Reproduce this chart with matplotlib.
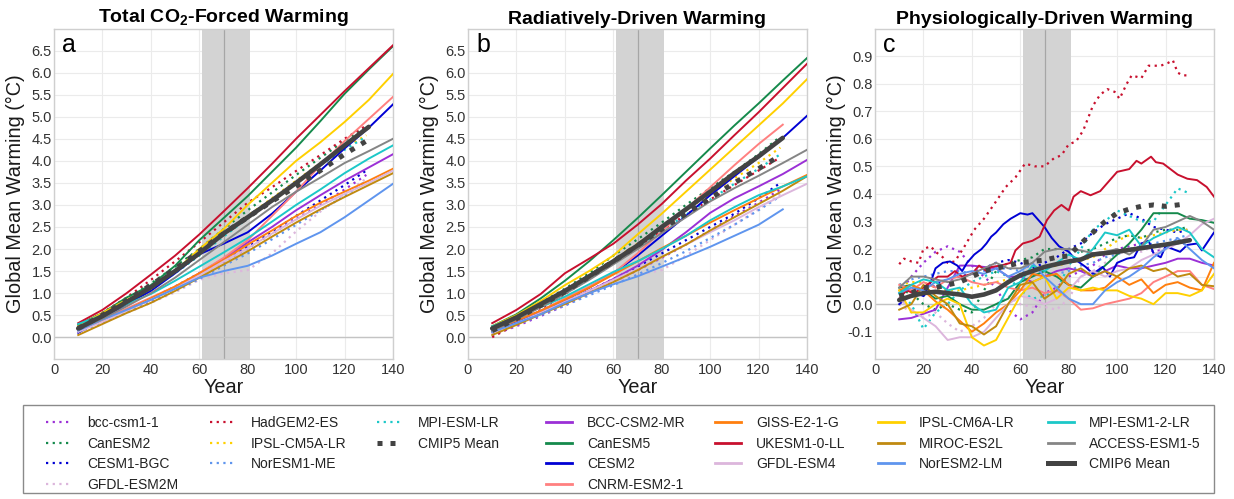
import numpy as np
import matplotlib
matplotlib.use("Agg")
import matplotlib.pyplot as plt
from matplotlib.lines import Line2D
from matplotlib.patches import Rectangle

nan = np.nan

# ---------------------------------------------------------------- years
YEARS6 = [10, 20, 30, 40, 50, 60, 70, 80, 90, 100, 110, 120, 130, 140]
YEARS5 = [10, 20, 30, 40, 50, 60, 70, 80, 90, 100, 110, 120, 129]
YEARS_MEAN6 = [10, 20, 30, 40, 50, 60, 70, 80, 90, 100, 110, 120, 130]
PHY_YEARS6 = list(range(10, 141, 5))
PHY_YEARS5 = list(range(10, 126, 5)) + [129]
PHY_YEARS_MEAN6 = list(range(10, 131, 5))

# ------------------------------------------- total CO2-forced warming (a)
tot_bcc5 = [0.12, 0.35, 0.60, 0.85, 1.12, 1.42, 1.72, 2.02, 2.35, 2.68, 3.00, 3.35, 3.68]
tot_canesm2 = [0.25, 0.55, 0.88, 1.22, 1.60, 2.00, 2.45, 2.88, 3.28, 3.68, 4.07, 4.45, 4.78]
tot_cesm1 = [0.15, 0.38, 0.62, 0.88, 1.15, 1.45, 1.75, 2.05, 2.40, 2.75, 3.10, 3.45, 3.78]
tot_gfdl2m = [0.15, 0.35, 0.55, 0.78, 1.02, 1.30, 1.45, 1.52, 1.90, 2.40, 2.85, 3.25, 3.60]
tot_hadgem2 = [0.25, 0.55, 0.90, 1.30, 1.72, 2.15, 2.60, 3.05, 3.40, 3.77, 4.13, 4.50, 4.80]
tot_ipsl5 = [0.22, 0.50, 0.80, 1.12, 1.50, 1.90, 2.33, 2.75, 3.15, 3.55, 3.95, 4.30, 4.58]
tot_noresm1 = [0.12, 0.33, 0.56, 0.80, 1.05, 1.32, 1.62, 1.90, 2.22, 2.55, 2.88, 3.20, 3.55]
tot_mpi5 = [0.22, 0.48, 0.78, 1.10, 1.45, 1.85, 2.28, 2.70, 3.10, 3.50, 3.90, 4.25, 4.55]
tot_mean5 = [0.20, 0.50, 0.83, 1.18, 1.55, 1.95, 2.35, 2.72, 3.08, 3.42, 3.78, 4.15, 4.45]

tot_bcc6 = [0.20, 0.40, 0.62, 0.85, 1.12, 1.45, 1.78, 2.15, 2.50, 2.88, 3.22, 3.55, 3.85, 4.15]
tot_canesm5 = [0.28, 0.55, 0.90, 1.18, 1.62, 2.20, 2.70, 3.20, 3.75, 4.30, 4.90, 5.52, 6.07, 6.60]
tot_cesm2 = [0.10, 0.42, 0.75, 1.05, 1.45, 1.88, 2.12, 2.38, 2.80, 3.30, 3.78, 4.28, 4.75, 5.28]
tot_cnrm = [0.20, 0.40, 0.65, 0.90, 1.15, 1.45, 1.80, 2.20, 2.75, 3.30, 3.90, 4.45, 4.95, 5.45]
tot_giss = [0.15, 0.38, 0.62, 0.88, 1.15, 1.45, 1.75, 2.10, 2.42, 2.75, 3.05, 3.30, 3.55, 3.82]
tot_ukesm = [0.32, 0.62, 1.00, 1.42, 1.85, 2.33, 2.85, 3.38, 3.93, 4.50, 5.04, 5.58, 6.10, 6.62]
tot_gfdl4 = [0.12, 0.35, 0.60, 0.85, 1.10, 1.40, 1.72, 2.02, 2.35, 2.67, 2.98, 3.25, 3.50, 3.78]
tot_ipsl6 = [0.25, 0.55, 0.85, 1.10, 1.50, 2.00, 2.45, 3.00, 3.50, 4.00, 4.42, 4.88, 5.38, 5.97]
tot_miroc = [0.05, 0.30, 0.55, 0.78, 1.05, 1.35, 1.65, 1.95, 2.28, 2.60, 2.90, 3.18, 3.45, 3.72]
tot_noresm2 = [0.15, 0.40, 0.62, 0.85, 1.10, 1.35, 1.50, 1.62, 1.85, 2.12, 2.38, 2.72, 3.10, 3.48]
tot_mpi6 = [0.30, 0.50, 0.75, 0.98, 1.28, 1.60, 1.92, 2.25, 2.62, 3.00, 3.35, 3.72, 4.05, 4.35]
tot_access = [0.18, 0.42, 0.70, 1.00, 1.35, 1.75, 2.15, 2.55, 2.95, 3.30, 3.62, 3.95, 4.22, 4.50]
tot_mean6 = [0.20, 0.48, 0.80, 1.13, 1.50, 1.90, 2.35, 2.72, 3.10, 3.50, 3.92, 4.35, 4.77]

# ------------------------------------------- radiatively-driven warming (b)
rad_bcc5 = [0.05, 0.25, 0.48, 0.72, 0.98, 1.25, 1.52, 1.80, 2.10, 2.42, 2.75, 3.05, 3.35]
rad_canesm2 = [0.22, 0.48, 0.78, 1.10, 1.45, 1.85, 2.22, 2.60, 3.00, 3.38, 3.75, 4.15, 4.55]
rad_cesm1 = [0.12, 0.33, 0.56, 0.80, 1.05, 1.32, 1.60, 1.90, 2.20, 2.50, 2.80, 3.15, 3.50]
rad_gfdl2m = [0.10, 0.30, 0.52, 0.75, 0.98, 1.25, 1.42, 1.52, 1.85, 2.20, 2.55, 2.90, 3.25]
rad_hadgem2 = [0.00, 0.30, 0.62, 0.98, 1.32, 1.70, 2.05, 2.42, 2.78, 3.12, 3.45, 3.78, 4.08]
rad_ipsl5 = [0.18, 0.45, 0.75, 1.05, 1.38, 1.75, 2.12, 2.50, 2.88, 3.25, 3.60, 3.95, 4.30]
rad_noresm1 = [0.08, 0.28, 0.50, 0.72, 0.95, 1.18, 1.42, 1.68, 1.95, 2.25, 2.55, 2.88, 3.20]
rad_mpi5 = [0.18, 0.42, 0.70, 1.00, 1.32, 1.68, 2.05, 2.42, 2.78, 3.12, 3.48, 3.82, 4.15]
rad_mean5 = [0.15, 0.42, 0.72, 1.03, 1.37, 1.72, 2.08, 2.45, 2.80, 3.15, 3.50, 3.82, 4.12]

rad_bcc6 = [0.12, 0.32, 0.55, 0.80, 1.05, 1.32, 1.62, 1.98, 2.38, 2.82, 3.15, 3.42, 3.70, 4.02]
rad_canesm5 = [0.25, 0.52, 0.88, 1.28, 1.72, 2.20, 2.70, 3.22, 3.75, 4.28, 4.80, 5.30, 5.82, 6.33]
rad_cesm2 = [0.12, 0.35, 0.60, 0.85, 1.12, 1.45, 1.85, 2.30, 2.75, 3.22, 3.65, 4.08, 4.52, 5.02]
rad_cnrm = [0.18, 0.38, 0.60, 0.88, 1.15, 1.45, 1.90, 2.40, 2.90, 3.40, 3.90, 4.38, 4.82, nan]
rad_giss = [0.15, 0.38, 0.60, 0.85, 1.12, 1.42, 1.72, 2.02, 2.30, 2.60, 2.88, 3.15, 3.42, 3.68]
rad_ukesm = [0.32, 0.62, 0.98, 1.45, 1.78, 2.12, 2.55, 3.02, 3.55, 4.05, 4.58, 5.10, 5.65, 6.20]
rad_gfdl4 = [0.10, 0.32, 0.55, 0.80, 1.05, 1.30, 1.55, 1.82, 2.10, 2.38, 2.65, 2.95, 3.22, 3.48]
rad_ipsl6 = [0.25, 0.50, 0.82, 1.18, 1.50, 1.85, 2.33, 2.80, 3.30, 3.80, 4.30, 4.80, 5.30, 5.85]
rad_miroc = [0.05, 0.28, 0.52, 0.75, 1.00, 1.25, 1.52, 1.82, 2.10, 2.42, 2.72, 3.02, 3.32, 3.65]
rad_noresm2 = [0.12, 0.32, 0.52, 0.78, 1.00, 1.20, 1.38, 1.60, 1.82, 2.05, 2.30, 2.55, 2.90, nan]
rad_mpi6 = [0.25, 0.45, 0.68, 0.92, 1.20, 1.48, 1.72, 2.00, 2.30, 2.65, 2.95, 3.22, 3.42, 3.65]
rad_access = [0.15, 0.40, 0.68, 0.98, 1.30, 1.65, 2.00, 2.36, 2.72, 3.08, 3.38, 3.66, 3.95, 4.25]
rad_mean6 = [0.20, 0.45, 0.75, 1.05, 1.38, 1.72, 2.08, 2.50, 2.90, 3.30, 3.72, 4.10, 4.52]

# --------------------------------------- physiologically-driven warming (c)
phy_hadgem2_years = [10, 12, 15, 18, 20, 23, 25, 28, 30, 33, 37, 41, 45, 49, 54, 58, 60, 62, 66, 70,
                     74, 77, 80, 83, 86, 90, 93, 96, 99, 101, 104, 106, 110, 113, 118, 121, 123, 125, 127, 129]
phy_hadgem2 = [0.145, 0.165, 0.155, 0.15, 0.20, 0.21, 0.19, 0.17, 0.15, 0.155, 0.21, 0.27, 0.31, 0.36, 0.425,
               0.46, 0.485, 0.51, 0.50, 0.50, 0.53, 0.54, 0.58, 0.59, 0.63, 0.72, 0.76, 0.78, 0.77, 0.745,
               0.80, 0.83, 0.82, 0.865, 0.865, 0.875, 0.885, 0.84, 0.83, 0.83]
phy_bcc5 = [0.04, 0.10, 0.15, 0.19, 0.21, 0.19, 0.14, 0.10, 0.06, -0.02, -0.055, -0.03, 0.04,
            0.06, 0.10, 0.12, 0.14, 0.18, 0.20, 0.21, 0.22, 0.19, 0.20, 0.22, 0.22]
phy_canesm2 = [0.05, 0.04, 0.00, -0.02, 0.00, -0.02, -0.03, 0.05, 0.12, 0.15, 0.16, 0.17, 0.20,
               0.20, 0.20, 0.19, 0.20, 0.22, 0.24, 0.25, 0.24, 0.26, 0.27, 0.27, 0.28]
phy_cesm1 = [0.05, 0.06, 0.03, 0.07, 0.09, 0.10, 0.11, 0.13, 0.15, 0.16, 0.15, 0.13, 0.15,
             0.17, 0.20, 0.22, 0.26, 0.29, 0.31, 0.33, 0.31, 0.28, 0.27, 0.26, 0.27]
phy_gfdl2m = [0.00, -0.03, -0.05, -0.03, -0.07, -0.10, -0.08, -0.05, 0.00, 0.03, 0.00, -0.01, -0.01,
              -0.02, 0.02, 0.10, 0.12, 0.15, 0.18, 0.20, 0.19, 0.21, 0.20, 0.22, 0.22]
phy_ipsl5 = [0.07, 0.08, 0.08, 0.06, 0.05, 0.05, 0.06, 0.07, 0.08, 0.09, 0.10, 0.12, 0.13,
             0.14, 0.15, 0.16, 0.17, 0.20, 0.23, 0.25, 0.24, 0.25, 0.26, 0.27, 0.27]
phy_noresm1 = [0.07, 0.09, 0.10, 0.11, 0.12, 0.12, 0.11, 0.12, 0.13, 0.13, 0.12, 0.11, 0.10,
               0.11, 0.12, 0.14, 0.15, 0.17, 0.18, 0.20, 0.21, 0.22, 0.23, 0.24, 0.25]
phy_mpi5 = [0.04, 0.00, -0.09, -0.03, 0.00, 0.05, 0.08, 0.10, 0.12, 0.10, 0.05, 0.02, 0.03,
            0.05, 0.14, 0.20, 0.27, 0.30, 0.34, 0.32, 0.30, 0.30, 0.36, 0.42, 0.405]
phy_mean5 = [0.03, 0.04, 0.06, 0.06, 0.07, 0.08, 0.10, 0.12, 0.13, 0.14, 0.15, 0.155, 0.16,
             0.17, 0.175, 0.22, 0.26, 0.30, 0.33, 0.345, 0.355, 0.36, 0.355, 0.36, 0.365]

phy_ukesm_years = [10, 13, 16, 20, 23, 26, 30, 33, 36, 40, 43, 46, 48, 52, 56, 58, 61, 65, 68, 71, 74,
                   77, 80, 82, 85, 89, 93, 97, 100, 105, 108, 110, 114, 116, 119, 122, 125, 129, 133, 137, 140]
phy_ukesm = [0.02, 0.05, 0.04, 0.06, 0.08, 0.10, 0.10, 0.12, 0.10, 0.11, 0.14, 0.12, 0.135, 0.14, 0.15,
             0.195, 0.22, 0.23, 0.245, 0.305, 0.34, 0.36, 0.34, 0.39, 0.41, 0.395, 0.41, 0.45, 0.48, 0.49,
             0.52, 0.51, 0.535, 0.515, 0.51, 0.49, 0.47, 0.455, 0.45, 0.425, 0.39]
phy_cesm2_years = [10, 13, 16, 20, 23, 25, 28, 31, 34, 36, 38, 41, 44, 46, 48, 50, 53, 56, 60, 63, 65, 68,
                   70, 73, 76, 80, 83, 87, 90, 94, 97, 100, 104, 107, 110, 113, 115, 118, 120, 123, 126,
                   129, 133, 135, 140]
phy_cesm2 = [0.00, 0.02, 0.04, 0.03, 0.08, 0.13, 0.15, 0.155, 0.14, 0.12, 0.15, 0.18, 0.20, 0.22, 0.245,
             0.26, 0.29, 0.31, 0.33, 0.325, 0.33, 0.30, 0.28, 0.24, 0.21, 0.19, 0.16, 0.135, 0.11, 0.135,
             0.10, 0.15, 0.165, 0.17, 0.22, 0.23, 0.185, 0.17, 0.21, 0.20, 0.19, 0.215, 0.22, 0.195, 0.26]
phy_bcc6 = [-0.055, -0.05, -0.035, -0.02, 0.06, 0.14, 0.14, 0.135, 0.13, 0.10, 0.10, 0.08, 0.10, 0.12,
            0.13, 0.12, 0.10, 0.12, 0.14, 0.13, 0.13, 0.14, 0.15, 0.165, 0.165, 0.15, 0.14]
phy_canesm5 = [0.06, 0.07, 0.05, 0.02, 0.03, 0.00, -0.02, -0.02, 0.00, 0.02, 0.08, 0.10, 0.12, 0.10,
               0.07, 0.06, 0.10, 0.14, 0.18, 0.22, 0.27, 0.33, 0.33, 0.33, 0.31, 0.305, 0.295]
phy_cnrm = [0.07, 0.05, 0.08, 0.06, 0.09, 0.10, 0.08, 0.07, 0.08, 0.06, 0.05, 0.06, 0.04, 0.05,
            0.02, -0.02, -0.015, 0.00, 0.01, 0.02, 0.04, 0.08, 0.10, 0.12, 0.12, 0.07, 0.055]
phy_giss = [0.05, 0.07, 0.05, 0.01, -0.02, -0.06, -0.10, -0.07, -0.03, 0.00, 0.05, 0.11, 0.10, 0.11,
            0.07, 0.05, 0.05, 0.06, 0.10, 0.07, 0.09, 0.04, 0.07, 0.08, 0.06, 0.05, 0.15]
phy_gfdl4 = [0.02, -0.02, -0.05, -0.08, -0.13, -0.12, -0.12, -0.10, -0.05, 0.00, 0.03, 0.02, 0.00,
             0.02, 0.05, 0.10, 0.12, 0.10, 0.12, 0.13, 0.16, 0.18, 0.20, 0.22, 0.25, 0.29, 0.31]
phy_ipsl6 = [0.05, -0.03, -0.03, 0.00, 0.02, 0.00, -0.12, -0.15, -0.13, -0.05, 0.03, 0.08, 0.10, 0.02,
             0.06, 0.05, 0.06, 0.05, 0.05, 0.03, 0.02, 0.00, 0.04, 0.04, 0.03, 0.05, 0.11]
phy_miroc = [-0.02, 0.00, 0.07, 0.03, 0.00, -0.07, -0.08, -0.11, -0.08, 0.00, 0.07, 0.08, 0.02, 0.05,
             0.11, 0.13, 0.10, 0.12, 0.10, 0.13, 0.14, 0.12, 0.13, 0.10, 0.11, 0.07, 0.065]
phy_noresm2 = [0.04, 0.06, 0.05, 0.08, 0.09, 0.11, 0.12, 0.11, 0.13, 0.10, 0.12, 0.15, 0.10, 0.06,
               0.02, 0.00, 0.00, 0.05, 0.08, 0.10, 0.13, 0.17, 0.20, 0.24, 0.20, 0.16, 0.13]
phy_mpi6 = [0.04, 0.07, 0.09, 0.08, 0.05, 0.06, 0.00, -0.03, -0.02, 0.06, 0.08, 0.14, 0.12, 0.15,
            0.18, 0.16, 0.20, 0.26, 0.25, 0.27, 0.21, 0.24, 0.26, 0.28, 0.26, 0.20, 0.17]
phy_access = [0.06, 0.10, 0.10, 0.09, 0.08, 0.09, 0.11, 0.13, 0.15, 0.13, 0.13, 0.15, 0.19, 0.20,
              0.20, 0.195, 0.185, 0.19, 0.20, 0.18, 0.21, 0.27, 0.28, 0.30, 0.32, 0.30, 0.27]
phy_mean6 = [0.015, 0.03, 0.04, 0.045, 0.04, 0.035, 0.027, 0.035, 0.05, 0.08, 0.105, 0.12, 0.135,
             0.145, 0.155, 0.162, 0.18, 0.185, 0.19, 0.197, 0.203, 0.21, 0.216, 0.224, 0.232]

# ---------------------------------------------------------------- styling
PURPLE = "#9b30d6"
GREEN = "#158a4c"
BLUE = "#0000d4"
THISTLE = "#dcb6dc"
RED = "#c8102e"
GOLD = "#ffd000"
CORNFLOWER = "#5f95ee"
CYAN = "#1cc8c8"
SALMON = "#ff8080"
ORANGE = "#ff7f0e"
GOLDENROD = "#c08a10"
GREY = "#858585"
DARK = "#434343"

DOT = (0, (1, 2))
SQUARE_DOT = (0, (1, 1.6))

# label, colour, (a, b, c) values, years for c
CMIP5_MODELS = [
    ("bcc-csm1-1", PURPLE, tot_bcc5, rad_bcc5, phy_bcc5, PHY_YEARS5),
    ("CanESM2", GREEN, tot_canesm2, rad_canesm2, phy_canesm2, PHY_YEARS5),
    ("CESM1-BGC", BLUE, tot_cesm1, rad_cesm1, phy_cesm1, PHY_YEARS5),
    ("GFDL-ESM2M", THISTLE, tot_gfdl2m, rad_gfdl2m, phy_gfdl2m, PHY_YEARS5),
    ("HadGEM2-ES", RED, tot_hadgem2, rad_hadgem2, phy_hadgem2, phy_hadgem2_years),
    ("IPSL-CM5A-LR", GOLD, tot_ipsl5, rad_ipsl5, phy_ipsl5, PHY_YEARS5),
    ("NorESM1-ME", CORNFLOWER, tot_noresm1, rad_noresm1, phy_noresm1, PHY_YEARS5),
    ("MPI-ESM-LR", CYAN, tot_mpi5, rad_mpi5, phy_mpi5, PHY_YEARS5),
]
CMIP6_MODELS = [
    ("BCC-CSM2-MR", PURPLE, tot_bcc6, rad_bcc6, phy_bcc6, PHY_YEARS6),
    ("CanESM5", GREEN, tot_canesm5, rad_canesm5, phy_canesm5, PHY_YEARS6),
    ("CESM2", BLUE, tot_cesm2, rad_cesm2, phy_cesm2, phy_cesm2_years),
    ("CNRM-ESM2-1", SALMON, tot_cnrm, rad_cnrm, phy_cnrm, PHY_YEARS6),
    ("GISS-E2-1-G", ORANGE, tot_giss, rad_giss, phy_giss, PHY_YEARS6),
    ("UKESM1-0-LL", RED, tot_ukesm, rad_ukesm, phy_ukesm, phy_ukesm_years),
    ("GFDL-ESM4", THISTLE, tot_gfdl4, rad_gfdl4, phy_gfdl4, PHY_YEARS6),
    ("IPSL-CM6A-LR", GOLD, tot_ipsl6, rad_ipsl6, phy_ipsl6, PHY_YEARS6),
    ("MIROC-ES2L", GOLDENROD, tot_miroc, rad_miroc, phy_miroc, PHY_YEARS6),
    ("NorESM2-LM", CORNFLOWER, tot_noresm2, rad_noresm2, phy_noresm2, PHY_YEARS6),
    ("MPI-ESM1-2-LR", CYAN, tot_mpi6, rad_mpi6, phy_mpi6, PHY_YEARS6),
    ("ACCESS-ESM1-5", GREY, tot_access, rad_access, phy_access, PHY_YEARS6),
]
MEANS5 = (tot_mean5, rad_mean5, phy_mean5)
MEANS6 = (tot_mean6, rad_mean6, phy_mean6)

TITLES = [r"Total CO$_\mathbf{2}$-Forced Warming", "Radiatively-Driven Warming",
          "Physiologically-Driven Warming"]
PANEL_TAGS = ["a", "b", "c"]

plt.rcParams["font.family"] = ["Liberation Sans", "DejaVu Sans"]
plt.rcParams["mathtext.fontset"] = "custom"
plt.rcParams["mathtext.rm"] = "Liberation Sans"
plt.rcParams["mathtext.bf"] = "Liberation Sans:bold"

MODEL_LW = 1.4
DOT_LW = 1.6
MEAN_LW = 3.3

fig = plt.figure(figsize=(12.34, 4.99), dpi=100)
lefts = [54 / 1234, 468 / 1234, 875 / 1234]
ax_w = 339 / 1234
ax_b = 1 - 359.3 / 499
ax_h = (359.3 - 28.5) / 499

for i, left in enumerate(lefts):
    ax = fig.add_axes([left, ax_b, ax_w, ax_h])
    ax.set_axisbelow(True)
    ax.grid(True, color="#ebebeb", lw=0.8)
    ax.axvspan(61, 81, color="#d3d3d3", lw=0, zorder=1.1)
    ax.axvline(70, color="#a6a6a6", lw=0.9, zorder=1.2)
    ax.axhline(0, color="#c4c4c4", lw=1.0, zorder=1.2)

    for label, color, tot, rad, phy, pyears in CMIP5_MODELS:
        xs, ys = [(YEARS5, tot), (YEARS5, rad), (pyears, phy)][i]
        ax.plot(xs, ys, color=color, lw=DOT_LW, linestyle=DOT, zorder=3)
    for label, color, tot, rad, phy, pyears in CMIP6_MODELS:
        xs, ys = [(YEARS6, tot), (YEARS6, rad), (pyears, phy)][i]
        ax.plot(xs, ys, color=color, lw=MODEL_LW, zorder=3)

    m5_years = [YEARS5, YEARS5, PHY_YEARS5][i]
    m6_years = [YEARS_MEAN6, YEARS_MEAN6, PHY_YEARS_MEAN6][i]
    ax.plot(m5_years, MEANS5[i], color=DARK, lw=3.6, linestyle=SQUARE_DOT, zorder=4)
    ax.plot(m6_years, MEANS6[i], color=DARK, lw=MEAN_LW, solid_capstyle="round", zorder=4)

    ax.set_xlim(0, 140)
    ax.set_xticks(range(0, 141, 20))
    if i < 2:
        ax.set_ylim(-0.5, 7.0)
        ax.set_yticks(np.arange(0, 6.51, 0.5))
    else:
        ax.set_ylim(-0.2, 1.0)
        ax.set_yticks(np.arange(-0.1, 0.91, 0.1))
    ax.yaxis.set_major_formatter(matplotlib.ticker.FormatStrFormatter("%.1f"))
    ax.tick_params(axis="both", length=0, labelsize=10.5, labelcolor="#333333")
    ax.tick_params(axis="y", pad=1.5)
    ax.tick_params(axis="x", pad=2.5)
    for sp in ax.spines.values():
        sp.set_color("#cfcfcf")
        sp.set_linewidth(1.0)

    ax.set_title(TITLES[i], fontsize=14, fontweight="bold", pad=3.6)
    ax.set_ylabel("Global Mean Warming (°C)", fontsize=14.3, color="#1a1a1a")
    ax.yaxis.set_label_coords(-0.0855, 0.5)
    ax.set_xlabel("Year", fontsize=14.3, color="#1a1a1a")
    ax.xaxis.set_label_coords(0.5, -0.058)
    ax.text(0.024, 0.928, PANEL_TAGS[i], transform=ax.transAxes, fontsize=18,
            va="baseline", ha="left", color="black")

# ---------------------------------------------------------------- legend
def handle(color, style, lw):
    return Line2D([], [], color=color, linestyle=style, lw=lw)

entries5 = [(handle(c, DOT, DOT_LW), lab) for lab, c, *_ in CMIP5_MODELS]
entries5.append((handle(DARK, SQUARE_DOT, 3.6), "CMIP5 Mean"))
entries6 = [(handle(c, "-", 2.0), lab) for lab, c, *_ in CMIP6_MODELS]
entries6.append((handle(DARK, "-", 3.6), "CMIP6 Mean"))

columns = [entries5[0:4], entries5[4:7], entries5[7:9],
           entries6[0:4], entries6[4:7], entries6[7:10], entries6[10:13]]
col_x = [46, 210, 377, 546, 715, 878, 1048]

fig.add_artist(Rectangle((23 / 1234, 1 - 493 / 499), (1214 - 23) / 1234, 88 / 499,
                         transform=fig.transFigure, fill=False, edgecolor="#8a8a8a", lw=1.0))
for x, col in zip(col_x, columns):
    fig.legend(handles=[h for h, _ in col], labels=[l for _, l in col],
               loc="upper left", bbox_to_anchor=(x / 1234, 1 - 416 / 499),
               frameon=False, fontsize=10, handlelength=1.9, handletextpad=1.05,
               labelspacing=0.47, borderpad=0, borderaxespad=0, labelcolor="#222222")

fig.savefig("out.png", dpi=100)
